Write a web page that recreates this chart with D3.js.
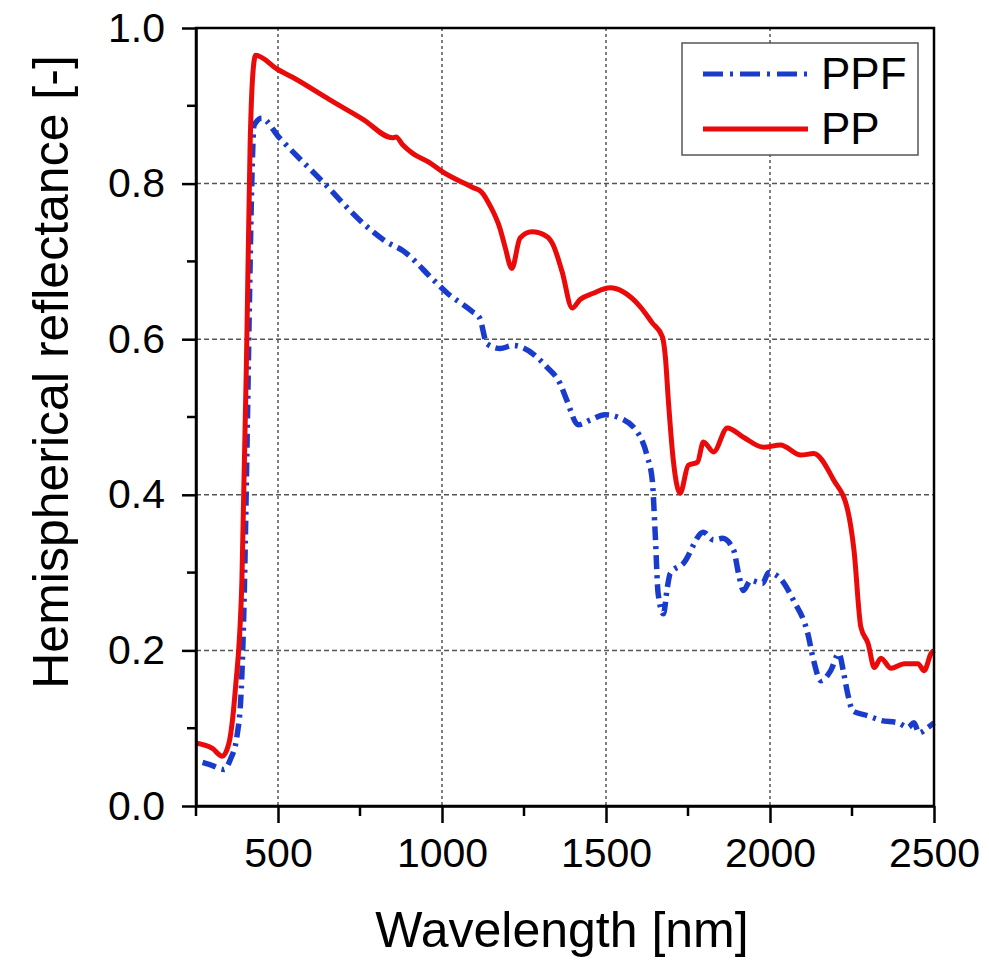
<!DOCTYPE html>
<html>
<head>
<meta charset="utf-8">
<script src="https://cdn.jsdelivr.net/npm/d3@7"></script>
<style>
  body { margin: 0; background: #fff; }
  text { font-family: "Liberation Sans", Arial, sans-serif; fill: #000; }
</style>
</head>
<body>
<div id="chart"></div>
<script>
// PP (solid red) : [wavelength nm, reflectance]
const ppData = [
  [250, 0.081], [300, 0.074], [330, 0.064], [350, 0.08], [370, 0.15], [390, 0.29],
  [405, 0.6], [415, 0.85], [425, 0.95], [432, 0.965], [498, 0.947], [543, 0.937],
  [657, 0.908], [758, 0.883], [849, 0.859], [860, 0.86], [880, 0.85], [907, 0.84],
  [962, 0.827], [1002, 0.815], [1094, 0.795], [1121, 0.789], [1146, 0.772],
  [1177, 0.742], [1192, 0.719], [1213, 0.691], [1238, 0.73], [1274, 0.738],
  [1320, 0.732], [1338, 0.722], [1366, 0.687], [1397, 0.64], [1421, 0.651],
  [1461, 0.659], [1513, 0.666], [1552, 0.661], [1604, 0.642], [1641, 0.621],
  [1672, 0.603], [1681, 0.577], [1690, 0.522], [1705, 0.445], [1726, 0.402],
  [1751, 0.438], [1779, 0.442], [1797, 0.468], [1828, 0.455], [1870, 0.486],
  [1919, 0.474], [1981, 0.461], [2032, 0.464], [2094, 0.451], [2133, 0.453],
  [2194, 0.419], [2237, 0.38], [2256, 0.329], [2277, 0.23], [2299, 0.209],
  [2318, 0.178], [2338, 0.19], [2369, 0.177], [2409, 0.183], [2451, 0.183],
  [2470, 0.174], [2491, 0.196], [2500, 0.2]
];

// PPF (blue dash-dot)
const ppfData = [
  [270, 0.056], [300, 0.052], [335, 0.047], [355, 0.06], [375, 0.09], [388, 0.15],
  [397, 0.27], [405, 0.45], [413, 0.65], [420, 0.8], [427, 0.875], [450, 0.884],
  [504, 0.859], [635, 0.803], [770, 0.745], [831, 0.725], [880, 0.714], [972, 0.677],
  [1014, 0.66], [1094, 0.635], [1115, 0.627], [1137, 0.594], [1177, 0.588],
  [1217, 0.592], [1247, 0.589], [1320, 0.564], [1360, 0.543], [1381, 0.521],
  [1415, 0.49], [1452, 0.496], [1497, 0.503], [1534, 0.5], [1595, 0.481],
  [1626, 0.449], [1641, 0.419], [1650, 0.35], [1659, 0.273], [1675, 0.247],
  [1687, 0.281], [1696, 0.299], [1736, 0.312], [1797, 0.352], [1828, 0.342],
  [1855, 0.344], [1889, 0.329], [1904, 0.299], [1919, 0.277], [1941, 0.29],
  [1977, 0.286], [1996, 0.3], [2032, 0.292], [2072, 0.264], [2115, 0.222],
  [2133, 0.187], [2155, 0.161], [2185, 0.174], [2210, 0.196], [2225, 0.17],
  [2237, 0.144], [2253, 0.122], [2299, 0.116], [2338, 0.11], [2390, 0.107],
  [2421, 0.101], [2439, 0.107], [2454, 0.094], [2482, 0.101], [2500, 0.107]
];

const xMajorTicks = [500, 1000, 1500, 2000, 2500];
const xMinorTicks = [250, 750, 1250, 1750, 2250];
const yMajorTicks = [0, 0.2, 0.4, 0.6, 0.8, 1.0];
const yMinorTicks = [0.1, 0.3, 0.5, 0.7, 0.9];
const seriesNames = ['PPF', 'PP'];

const width = 989;
const height = 960;
const margin = { top: 28, right: 55, bottom: 154, left: 196 };
const innerWidth = width - margin.left - margin.right;
const innerHeight = height - margin.top - margin.bottom;

const svg = d3.select('#chart')
  .append('svg')
  .attr('width', width)
  .attr('height', height)
  .append('g')
  .attr('transform', `translate(${margin.left},${margin.top})`);

const xScale = d3.scaleLinear().domain([250, 2500]).range([0, innerWidth]);
const yScale = d3.scaleLinear().domain([0, 1]).range([innerHeight, 0]);

// grid
svg.selectAll('.vgrid')
  .data(xMajorTicks.filter(d => d < 2500))
  .enter()
  .append('line')
  .attr('x1', d => xScale(d))
  .attr('x2', d => xScale(d))
  .attr('y1', 0)
  .attr('y2', innerHeight)
  .attr('stroke', '#555')
  .attr('stroke-width', 1.5)
  .attr('stroke-dasharray', '3,3');

svg.selectAll('.hgrid')
  .data(yMajorTicks.filter(d => d > 0 && d < 1))
  .enter()
  .append('line')
  .attr('x1', 0)
  .attr('x2', innerWidth)
  .attr('y1', d => yScale(d))
  .attr('y2', d => yScale(d))
  .attr('stroke', '#555')
  .attr('stroke-width', 1.5)
  .attr('stroke-dasharray', '5,3');

// curves
const line = d3.line()
  .x(d => xScale(d[0]))
  .y(d => yScale(d[1]))
  .curve(d3.curveMonotoneX);

svg.append('path')
  .datum(ppfData)
  .attr('fill', 'none')
  .attr('stroke', '#1a3ccc')
  .attr('stroke-width', 5.5)
  .attr('stroke-dasharray', '14,6,3,6')
  .attr('d', line);

svg.append('path')
  .datum(ppData)
  .attr('fill', 'none')
  .attr('stroke', '#ea0a0a')
  .attr('stroke-width', 5)
  .attr('stroke-linejoin', 'round')
  .attr('d', line);

// frame
svg.append('rect')
  .attr('width', innerWidth)
  .attr('height', innerHeight)
  .attr('fill', 'none')
  .attr('stroke', '#000')
  .attr('stroke-width', 2.5);

// axes
const xAxis = svg.append('g')
  .attr('transform', `translate(0,${innerHeight})`)
  .call(d3.axisBottom(xScale).tickValues(xMajorTicks).tickFormat(d3.format('d'))
    .tickSize(17).tickPadding(15).tickSizeOuter(0));
xAxis.append('g').selectAll('line')
  .data(xMinorTicks)
  .enter()
  .append('line')
  .attr('x1', d => xScale(d))
  .attr('x2', d => xScale(d))
  .attr('y2', 10)
  .attr('stroke', '#000');

const yAxis = svg.append('g')
  .call(d3.axisLeft(yScale).tickValues(yMajorTicks).tickFormat(d3.format('.1f'))
    .tickSize(14).tickPadding(17).tickSizeOuter(0));
yAxis.append('g').selectAll('line')
  .data(yMinorTicks)
  .enter()
  .append('line')
  .attr('y1', d => yScale(d))
  .attr('y2', d => yScale(d))
  .attr('x2', -9)
  .attr('stroke', '#000');

[xAxis, yAxis].forEach(ax => {
  ax.select('.domain').attr('stroke-width', 2.5);
  ax.selectAll('line').attr('stroke-width', 2.5);
  ax.selectAll('text')
    .style('font-family', '"Liberation Sans", Arial, sans-serif')
    .style('font-size', '41px')
    .attr('fill', '#000');
});

// titles
svg.append('text')
  .attr('x', innerWidth / 2 - 3)
  .attr('y', 947 - margin.top)
  .attr('text-anchor', 'middle')
  .style('font-size', '50px')
  .text('Wavelength [nm]');

svg.append('text')
  .attr('transform', `translate(${68 - margin.left},${372 - margin.top}) rotate(-90)`)
  .attr('text-anchor', 'middle')
  .style('font-size', '50px')
  .text('Hemispherical reflectance [-]');

// legend
const legend = svg.append('g')
  .attr('transform', `translate(${682 - margin.left},${43 - margin.top})`);

legend.append('rect')
  .attr('width', 236)
  .attr('height', 112)
  .attr('fill', '#fff')
  .attr('stroke', '#555')
  .attr('stroke-width', 1.5);

const legendStyles = {
  PPF: { color: '#1a3ccc', dash: '20,7,3,7' },
  PP: { color: '#ea0a0a', dash: null }
};

legend.selectAll(null)
  .data(seriesNames)
  .enter()
  .append('g')
  .attr('transform', (d, i) => `translate(0, ${31 + i * 55})`)
  .each(function(d) {
    const g = d3.select(this);
    g.append('line')
      .attr('x1', 21)
      .attr('x2', 126)
      .attr('stroke', legendStyles[d].color)
      .attr('stroke-width', 5)
      .attr('stroke-dasharray', legendStyles[d].dash);
    g.append('text')
      .attr('x', 139)
      .attr('y', 15)
      .style('font-size', '44px')
      .text(d);
  });
</script>
</body>
</html>
